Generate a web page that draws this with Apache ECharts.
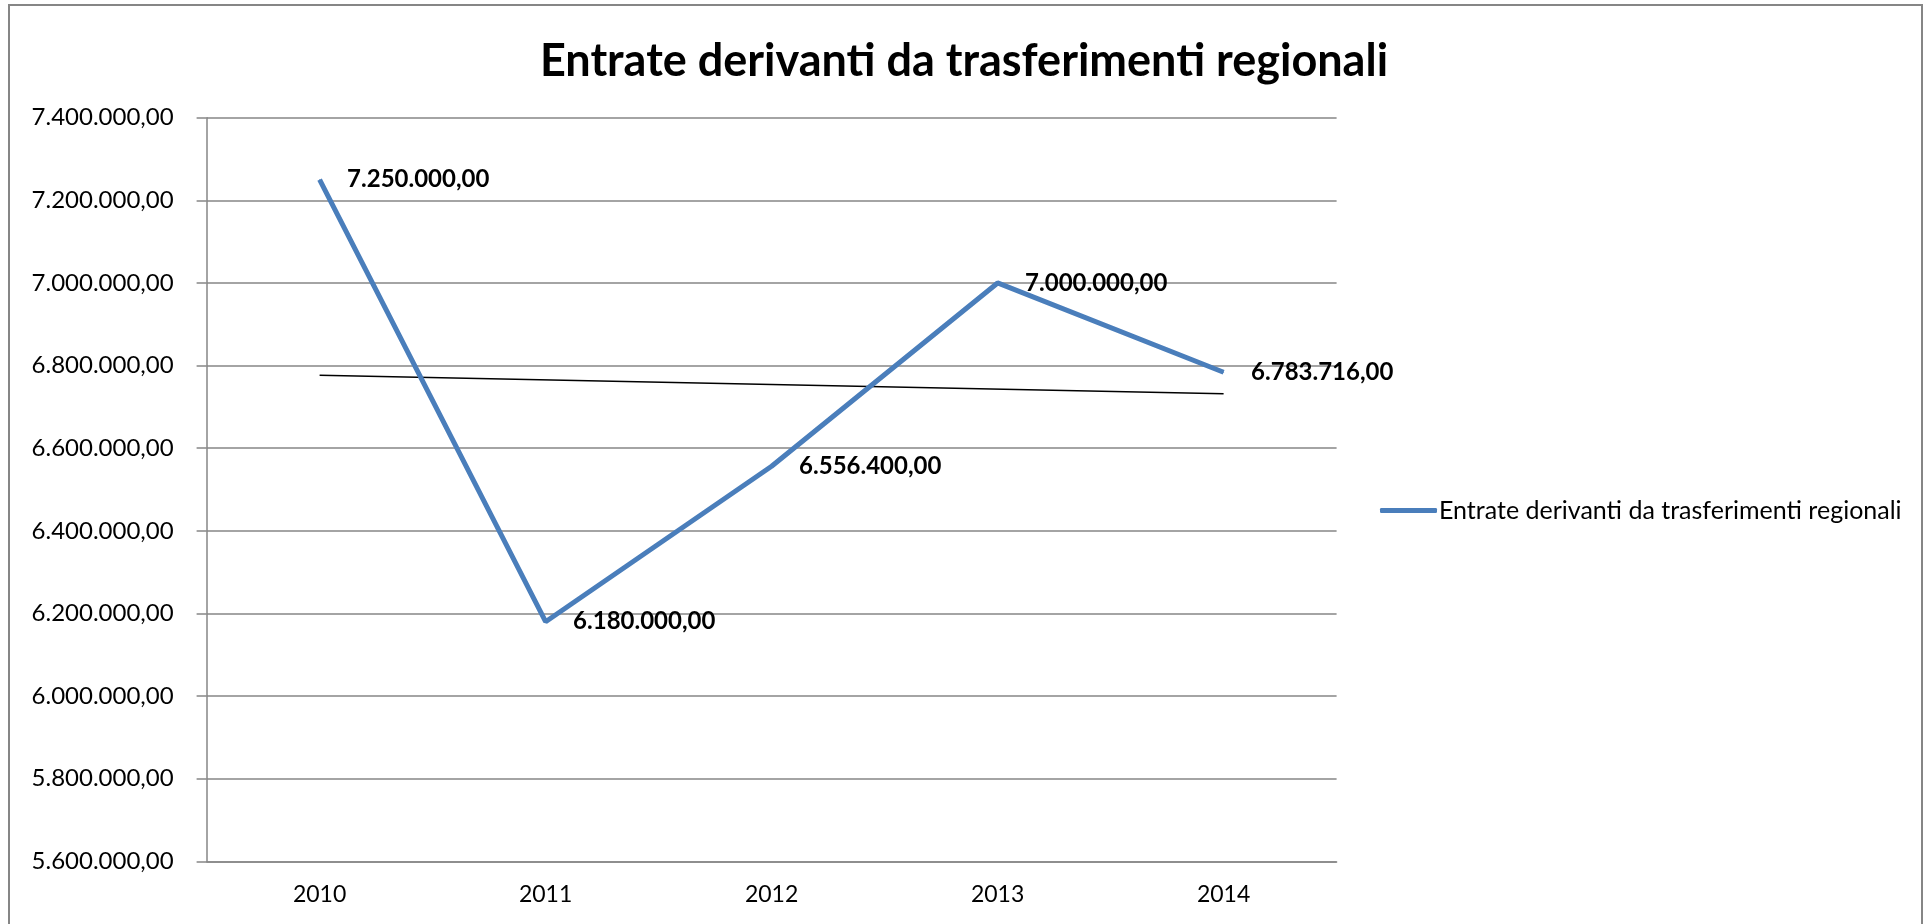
<!DOCTYPE html>
<html>
<head>
<meta charset="utf-8">
<title>Entrate derivanti da trasferimenti regionali</title>
<script src="https://cdn.jsdelivr.net/npm/echarts@6/dist/echarts.min.js"></script>
<style>
    html, body { margin: 0; padding: 0; background: #ffffff; }
    #chart { width: 1928px; height: 924px; }
</style>
</head>
<body>
<div id="chart"></div>
<script>
    // dati
    const anni = ['2010', '2011', '2012', '2013', '2014'];
    const entrate = [7250000, 6180000, 6556400, 7000000, 6783716];
    // linea di tendenza: solo gli estremi, il resto viene unito
    const tendenza = [6776500, null, null, null, 6731500];

    const nomeSerie = 'Entrate derivanti da trasferimenti regionali';
    const blu = '#4A7EBB';
    const grigio = '#868686';
    const font = 'Lato';

    // formato italiano: 7.250.000,00
    function formatoIt(v) {
        const parti = Number(v).toFixed(2).split('.');
        const intero = parti[0].replace(/\B(?=(\d{3})+(?!\d))/g, '.');
        return intero + ',' + parti[1];
    }

    const chart = echarts.init(document.getElementById('chart'));

    const options = {
        animation: false,
        textStyle: { fontFamily: font, color: '#000' },
        graphic: [
            {
                // cornice esterna
                type: 'rect',
                shape: { x: 9, y: 5, width: 1913, height: 940 },
                style: { fill: 'none', stroke: grigio, lineWidth: 2 },
                silent: true
            }
        ],
        title: {
            text: nomeSerie,
            left: 'center',
            top: 34,
            textStyle: {
                fontFamily: font,
                fontWeight: 'bold',
                fontSize: 45,
                color: '#000'
            }
        },
        legend: {
            data: [nomeSerie],
            left: 1375,
            top: 493,
            icon: 'roundRect',
            itemWidth: 57,
            itemHeight: 5,
            textStyle: { fontFamily: font, fontSize: 25, color: '#000', padding: [0, 0, 0, -3] }
        },
        grid: {
            left: 206.6,
            right: 591.4,
            top: 117.7,
            bottom: 62.7
        },
        xAxis: {
            type: 'category',
            data: anni,
            boundaryGap: true,
            axisLine: { lineStyle: { color: grigio, width: 1.5 } },
            axisTick: { length: 8, lineStyle: { color: grigio, width: 1.5 } },
            axisLabel: { fontFamily: font, fontSize: 23, color: '#000', margin: 22 },
            splitLine: { show: false }
        },
        yAxis: {
            type: 'value',
            min: 5600000,
            max: 7400000,
            interval: 200000,
            axisLine: { show: true, lineStyle: { color: grigio, width: 1.5 } },
            axisTick: { show: true, length: 10, lineStyle: { color: grigio, width: 1.5 } },
            axisLabel: {
                fontFamily: font,
                fontSize: 24,
                color: '#000',
                margin: 33,
                formatter: formatoIt
            },
            splitLine: { lineStyle: { color: grigio, width: 1.5 } }
        },
        series: [
            {
                name: nomeSerie,
                type: 'line',
                data: entrate,
                symbol: 'circle',
                symbolSize: 1,
                lineStyle: { color: blu, width: 5 },
                itemStyle: { color: blu },
                label: {
                    show: true,
                    position: 'right',
                    distance: 27,
                    fontFamily: font,
                    fontWeight: 'bold',
                    fontSize: 24,
                    color: '#000',
                    formatter: p => formatoIt(p.value)
                },
                z: 3
            },
            {
                name: 'Tendenza',
                type: 'line',
                data: tendenza,
                connectNulls: true,
                symbol: 'none',
                lineStyle: { color: '#000', width: 1.5 },
                z: 2
            }
        ]
    };

    chart.setOption(options);
</script>
</body>
</html>
